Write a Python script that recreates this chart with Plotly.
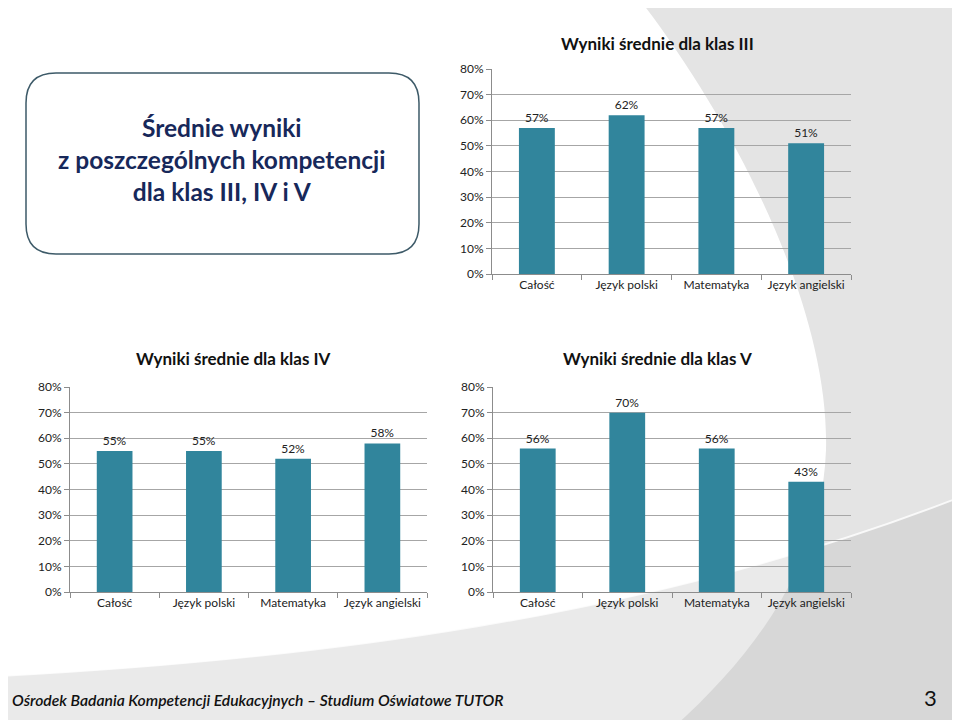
import plotly.graph_objects as go

# ---------------- data ----------------
categories = ["Całość", "Język polski", "Matematyka", "Język angielski"]
vals_III = [0.57, 0.62, 0.57, 0.51]
vals_IV = [0.55, 0.55, 0.52, 0.58]
vals_V = [0.56, 0.70, 0.56, 0.43]
chart_titles = ["Wyniki średnie dla klas III", "Wyniki średnie dla klas IV", "Wyniki średnie dla klas V"]
y_tick_vals = [0, 0.1, 0.2, 0.3, 0.4, 0.5, 0.6, 0.7, 0.8]
y_tick_text = ["0%", "10%", "20%", "30%", "40%", "50%", "60%", "70%", "80%"]
box_title = ["Średnie wyniki", "z poszczególnych kompetencji", "dla klas III, IV i V"]
footer_text = "Ośrodek Badania Kompetencji Edukacyjnych – Studium Oświatowe TUTOR"
page_number = "3"

# ---------------- helpers ----------------
W, H = 960, 720
OFF = 8  # the page body adds an 8px margin; compensate
FONT = "Lato"
BAR = "#31859C"


def px(x):
    return (x - OFF) / W


def py(y):
    return 1 - (y - OFF) / H


def path(cmds):
    out = []
    for c in cmds:
        if isinstance(c, str):
            out.append(c)
        else:
            out.append(f"{px(c[0]):.5f},{py(c[1]):.5f}")
    return " ".join(out)


fig = go.Figure()

series = [vals_III, vals_IV, vals_V]
axes = [("x", "y"), ("x2", "y2"), ("x3", "y3")]
for vals, (xa, ya) in zip(series, axes):
    fig.add_trace(go.Bar(
        x=categories, y=vals, xaxis=xa, yaxis=ya,
        marker=dict(color=BAR, line=dict(width=0)),
        texttemplate="%{y:.0%}", textposition="outside",
        textfont=dict(family=FONT, size=12, color="#222222"),
        cliponaxis=False, showlegend=False, hoverinfo="skip",
    ))

# plot areas (pixel boxes: x0, x1, ytop, ybottom)
boxes = [(492, 851, 69, 274), (70, 427, 387, 592), (493, 851, 387, 592)]

axis_common_x = dict(
    showline=True, linecolor="#8c8c8c", linewidth=1,
    ticks="outside", ticklen=5, tickcolor="#8c8c8c", tickson="boundaries",
    showgrid=False, tickfont=dict(family=FONT, size=12, color="#222222"),
    fixedrange=True, automargin=False,
)
axis_common_y = dict(
    range=[0, 0.8], tickvals=y_tick_vals, ticktext=y_tick_text,
    showline=True, linecolor="#8c8c8c", linewidth=1,
    ticks="outside", ticklen=5, tickcolor="#8c8c8c",
    showgrid=True, gridcolor="#a6a6a6", gridwidth=1, zeroline=False,
    tickfont=dict(family=FONT, size=12, color="#222222"),
    fixedrange=True, automargin=False,
)

layout_axes = {}
names = ["", "2", "3"]
for n, (x0, x1, yt, yb) in zip(names, boxes):
    layout_axes["xaxis" + n] = dict(axis_common_x, domain=[px(x0), px(x1)],
                                    anchor="y" + n)
    layout_axes["yaxis" + n] = dict(axis_common_y, domain=[py(yb), py(yt)],
                                    anchor="x" + n)

# ---------------- background decoration ----------------
shapes = []
# big grey area on the right
shapes.append(dict(
    type="path", xref="paper", yref="paper", layer="below",
    path=path(["M", (640, 0), "C", (725, 110), (830, 300), (826, 450),
               "C", (822, 560), (760, 650), (673, 728),
               "L", (968, 728), "L", (968, 0), "Z"]),
    fillcolor="#e4e4e4", line=dict(width=0),
))
# top strip above the grey area (inside the body margin region)
# bottom swoosh band
shapes.append(dict(
    type="path", xref="paper", yref="paper", layer="below",
    path=path(["M", (0, 676), "C", (300, 660), (650, 620), (968, 494),
               "L", (968, 728), "L", (0, 728), "Z"]),
    fillcolor="rgba(190,190,190,0.32)", line=dict(width=0),
))
# soft lighter edge on the swoosh
shapes.append(dict(
    type="path", xref="paper", yref="paper", layer="below",
    path=path(["M", (0, 676), "C", (300, 660), (650, 620), (968, 494)]),
    line=dict(color="rgba(255,255,255,0.8)", width=2),
))
# light strip at the far right
shapes.append(dict(
    type="rect", xref="paper", yref="paper", layer="below",
    x0=px(953), x1=px(968), y0=py(728), y1=py(0),
    fillcolor="#f4f4f4", line=dict(width=0),
))

# rounded title box
x0, x1, y0, y1, r = 26, 419, 73, 254, 30
shapes.append(dict(
    type="path", xref="paper", yref="paper", layer="above",
    path=path(["M", (x0 + r, y0), "L", (x1 - r, y0),
               "Q", (x1, y0), (x1, y0 + r), "L", (x1, y1 - r),
               "Q", (x1, y1), (x1 - r, y1), "L", (x0 + r, y1),
               "Q", (x0, y1), (x0, y1 - r), "L", (x0, y0 + r),
               "Q", (x0, y0), (x0 + r, y0), "Z"]),
    fillcolor="rgba(255,255,255,0)", line=dict(color="#3d5a68", width=1.5),
))

# ---------------- texts ----------------
annotations = []
title_pos = [(657, 43), (233, 358), (657, 358)]
for t, (cx, cy) in zip(chart_titles, title_pos):
    annotations.append(dict(
        text=t, x=px(cx), y=py(cy), xref="paper", yref="paper",
        xanchor="center", yanchor="middle", showarrow=False,
        font=dict(family=FONT, size=17, color="#111111", weight="bold"),
    ))

annotations.append(dict(
    text="<br>".join(box_title), x=px(222), y=py(159), xref="paper", yref="paper",
    xanchor="center", yanchor="middle", showarrow=False, align="center",
    font=dict(family=FONT, size=24.5, color="#17285a", weight="bold"),
))

annotations.append(dict(
    text=footer_text, x=px(10), y=py(700), xref="paper", yref="paper",
    xanchor="left", yanchor="middle", showarrow=False,
    font=dict(family=FONT, size=15.7, color="#111111", style="italic", weight=600),
))
annotations.append(dict(
    text=page_number, x=px(939), y=py(697), xref="paper", yref="paper",
    xanchor="right", yanchor="middle", showarrow=False,
    font=dict(family=FONT, size=22, color="#111111"),
))

fig.update_layout(
    template="none",
    width=W, height=H,
    margin=dict(l=0, r=0, t=0, b=0, pad=0, autoexpand=False),
    paper_bgcolor="white",
    plot_bgcolor="rgba(0,0,0,0)",
    bargap=0.6,
    shapes=shapes,
    annotations=annotations,
    font=dict(family=FONT),
    **layout_axes,
)

fig.write_html("out.html")
